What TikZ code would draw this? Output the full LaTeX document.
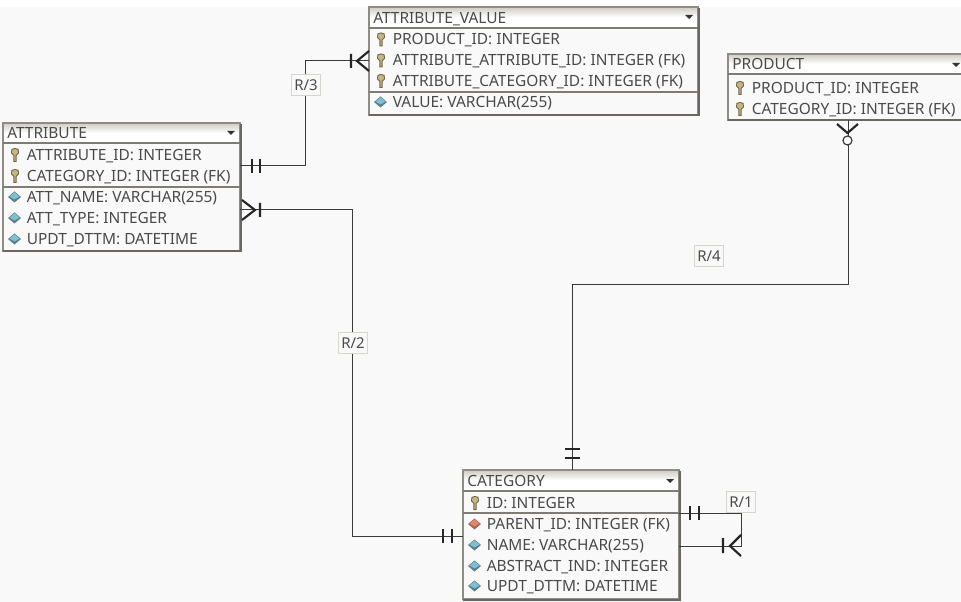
\documentclass[tikz,border=0pt]{standalone}
\usepackage{fontspec}
\setmainfont{Noto Sans}
\usetikzlibrary{calc,shapes.geometric}
\definecolor{bgc}{HTML}{F9F9F9}
\definecolor{bordc}{HTML}{8F8B85}
\definecolor{shadc}{HTML}{6A6763}
\definecolor{headc}{HTML}{CFCBC3}
\definecolor{txtc}{HTML}{4A4A4A}
\definecolor{linec}{HTML}{3A3A3A}
\definecolor{keyc}{HTML}{C4B585}
\definecolor{keyd}{HTML}{6E6443}
\definecolor{diac}{HTML}{7FC0D0}
\definecolor{diad}{HTML}{5A7F8A}
\definecolor{redc}{HTML}{E0866A}
\definecolor{redd}{HTML}{9A6A5A}
\definecolor{sepc}{HTML}{7F7C76}
\definecolor{relc}{HTML}{D8D5CE}
\newcounter{rowcnt}
\tikzset{
  conn/.style={draw=linec,line width=0.75pt},
  mark line/.style={draw=black!85,line width=1.6pt},
  erbox/.style={draw=bordc,line width=0.9pt,fill=bgc,inner sep=0pt,outer sep=0pt,anchor=north west},
  erhead/.style={inner sep=0pt,outer sep=0pt,anchor=north west,top color=headc,bottom color=white,middle color=white},
  rowtext/.style={anchor=west,inner sep=0pt,text=txtc,font=\fontsize{11.6pt}{13pt}\selectfont,text height=8.5pt,text depth=2pt},
  rel/.style={draw=relc,line width=0.9pt,fill=bgc,inner sep=0pt,outer sep=0pt,minimum width=22pt,minimum height=15.5pt,text=txtc,font=\fontsize{11.2pt}{13pt}\selectfont}
}
% name x1 y1 x2 y2 title ysep
\newcommand{\erboxat}[7]{%
  \pgfmathsetlengthmacro\erw{(#4-#2)*0.75pt}%
  \pgfmathsetlengthmacro\erh{(#5-#3)*0.75pt}%
  \pgfmathsetlengthmacro\erhh{(#7-#3)*0.75pt}%
  \node[erbox,minimum width=\erw,minimum height=\erh] (#1) at (#2,#3) {};
  \node[erhead,minimum width=\erw,minimum height=\erhh] (#1h) at (#2,#3) {};
  \draw[draw=bordc,line width=1.1pt] (#1.north west) rectangle (#1.south east);
  \draw[shadc,line width=1.5pt] (#4+0.5,#3+1) -- (#4+0.5,#5+0.5) -- (#2,#5+0.5);
  \draw[sepc,line width=0.8pt] (#2,#7) -- (#4,#7);
  \node[rowtext] (#1t) at (#2+4,#7-8.5) {#6};
}
\newcommand{\erdrop}[2]{\fill[black!80] (#1-4,#2-2) -- (#1+4,#2-2) -- (#1,#2+2) -- cycle;}
\newcommand{\ersep}[3]{\draw[sepc,line width=0.8pt] (#1,#3) -- (#2,#3);}
\newcommand{\keyrow}[3]{%
  \stepcounter{rowcnt}%
  \fill[keyd] (#1+12,#2-7) -- (#1+15.5,#2-6) -- (#1+16,#2-2) -- (#1+13.6,#2+0.5) -- (#1+13.6,#2+7) -- (#1+10.4,#2+7) -- (#1+10.4,#2+0.5) -- (#1+8,#2-2) -- (#1+8.5,#2-6) -- cycle;
  \fill[keyc] (#1+12,#2-6) -- (#1+14.5,#2-5.2) -- (#1+15,#2-2.4) -- (#1+12.6,#2+0) -- (#1+12.6,#2+6) -- (#1+11.4,#2+6) -- (#1+11.4,#2+0) -- (#1+9,#2-2.4) -- (#1+9.5,#2-5.2) -- cycle;
  \node[rowtext] (row\therowcnt) at (#1+23.5,#2+1) {#3};
}
\newcommand{\diarow}[5]{%
  \stepcounter{rowcnt}%
  \fill[#5] (#1+5,#2) -- (#1+11.5,#2-5.5) -- (#1+18,#2) -- (#1+11.5,#2+5.5) -- cycle;
  \fill[#4] (#1+6.5,#2-0.5) -- (#1+11.5,#2-4.6) -- (#1+16.5,#2-0.5) -- (#1+11.5,#2+2.5) -- cycle;
  \node[rowtext] (row\therowcnt) at (#1+23.5,#2+1) {#3};
}
\begin{document}
\begin{tikzpicture}[x=0.75pt,y=-0.75pt]
\useasboundingbox (0,0) rectangle (961,602);
\clip (0,0) rectangle (961,602);
\fill[bgc] (0,0) rectangle (961,602);
\fill[white] (0,0) rectangle (961,7);
% ATTRIBUTE
\erboxat{attr}{3}{123}{240}{251}{ATTRIBUTE}{143}
\erdrop{231}{133}
\ersep{3}{240}{187}
\keyrow{3}{155}{ATTRIBUTE\_ID: INTEGER}
\keyrow{3}{176}{CATEGORY\_ID: INTEGER (FK)}
\diarow{3}{197}{ATT\_NAME: VARCHAR(255)}{diac}{diad}
\diarow{3}{218}{ATT\_TYPE: INTEGER}{diac}{diad}
\diarow{3}{239}{UPDT\_DTTM: DATETIME}{diac}{diad}
% ATTRIBUTE_VALUE
\erboxat{aval}{369}{7}{698}{115}{ATTRIBUTE\_VALUE}{28}
\erdrop{689}{17}
\ersep{369}{698}{92}
\keyrow{369}{39.5}{PRODUCT\_ID: INTEGER}
\keyrow{369}{60.5}{ATTRIBUTE\_ATTRIBUTE\_ID: INTEGER (FK)}
\keyrow{369}{81}{ATTRIBUTE\_CATEGORY\_ID: INTEGER (FK)}
\diarow{369}{102}{VALUE: VARCHAR(255)}{diac}{diad}
% PRODUCT
\erboxat{prod}{728}{54}{966}{120}{PRODUCT}{74}
\erdrop{956}{65}
\keyrow{728}{88}{PRODUCT\_ID: INTEGER}
\keyrow{728}{109}{CATEGORY\_ID: INTEGER (FK)}
% CATEGORY
\erboxat{cat}{463}{470}{679}{599}{CATEGORY}{491}
\erdrop{670}{481}
\ersep{463}{679}{513}
\keyrow{463}{503}{ID: INTEGER}
\diarow{463}{524}{PARENT\_ID: INTEGER (FK)}{redc}{redd}
\diarow{463}{545}{NAME: VARCHAR(255)}{diac}{diad}
\diarow{463}{566}{ABSTRACT\_IND: INTEGER}{diac}{diad}
\diarow{463}{586}{UPDT\_DTTM: DATETIME}{diac}{diad}
% connectors
\draw[conn] (attr.east |- 0,166) -- (305,166) -- (305,61) -- (aval.west |- 0,61);
\draw[conn] (attr.east |- 0,210) -- (352,210) -- (352,536) -- (cat.west |- 0,536);
\draw[conn] (prod.south -| 848,0) -- (848,285) -- (572,285) -- (cat.north -| 572,0);
\draw[conn] (cat.east |- 0,513) -- (741,513) -- (741,546) -- (cat.east |- 0,546);
% relation labels
\node[rel] (r3) at (306,85) {R/3};
\node[rel] (r2) at (353,343) {R/2};
\node[rel] (r4) at (709,256) {R/4};
\node[rel] (r1) at (741,502) {R/1};
% R/3 marks
\draw[mark line] (252,159) -- (252,173) (260,159) -- (260,173);
\draw[mark line] (369,51) -- (357,61) -- (369,71) (351,54) -- (351,68);
% R/2 marks
\draw[mark line] (242,200) -- (255,210) -- (242,220) (260,203) -- (260,217);
\draw[mark line] (443,529) -- (443,543) (452,529) -- (452,543);
% R/4 marks
\draw[mark line] (837,124) -- (847.5,133) -- (858,124);
\draw[linec,line width=0.9pt,fill=bgc] (847.5,140.5) circle (4.5);
\draw[mark line] (565,449) -- (580,449) (565,458) -- (580,458);
% R/1 marks
\draw[mark line] (690,506) -- (690,520) (699,506) -- (699,520);
\draw[mark line] (741,535) -- (730,546) -- (741,556) (723,538) -- (723,553);
\end{tikzpicture}
\end{document}
